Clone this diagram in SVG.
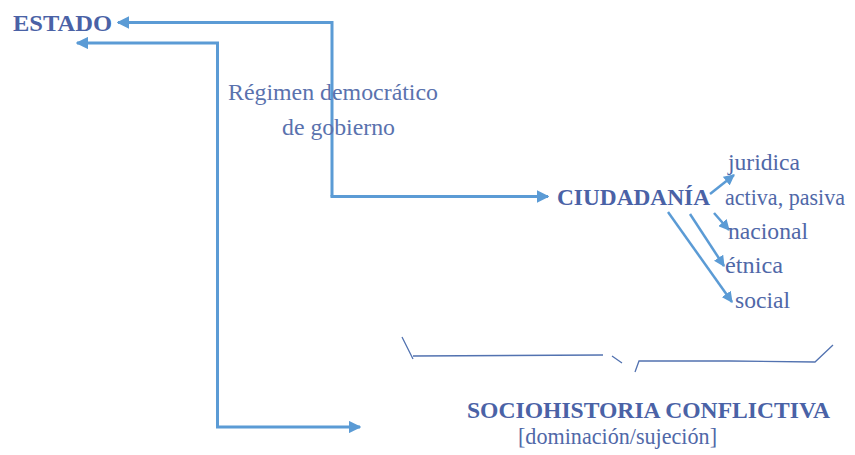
<svg xmlns="http://www.w3.org/2000/svg" width="855" height="455" viewBox="0 0 855 455" font-family="'Liberation Serif','Times New Roman',serif">
<style>
.t{font-family:'Liberation Serif','Times New Roman',serif;font-size:22.5px;fill:#5068a8}
.b{font-weight:bold;font-size:24px;fill:#4a62a6}
.r{fill:#5a72ae;font-size:24px}
.ln{fill:none;stroke:#5b9bd5;stroke-width:3}
.sl{fill:none;stroke:#5b9bd5;stroke-width:2.5}
.br{fill:none;stroke:#5272b0;stroke-width:1.3}
</style>
<defs>
<marker id="ah" viewBox="0 0 10 10" refX="9" refY="5" markerWidth="4.2" markerHeight="4.2" orient="auto-start-reverse" markerUnits="strokeWidth">
<path d="M0,0 L10,5 L0,10 z" fill="#5b9bd5"/>
</marker>
<marker id="ah2" viewBox="0 0 10 10" refX="9" refY="5" markerWidth="4.4" markerHeight="4.4" orient="auto" markerUnits="strokeWidth">
<path d="M0,0 L10,5 L0,10 z" fill="#5b9bd5"/>
</marker>
</defs>
<rect width="855" height="455" fill="#ffffff"/>
<g id="connectors">
<path class="ln" d="M332,196.5 L332,22.5 L118,22.5" marker-end="url(#ah)"/>
<path class="ln" d="M360,427 L217.5,427 L217.5,43 L77,43" marker-start="url(#ah)" marker-end="url(#ah)"/>
<path class="ln" d="M330.5,196.5 L548,196.5" marker-end="url(#ah)"/>
<path class="sl" d="M710,194 L734,175" marker-end="url(#ah2)"/>
<path class="sl" d="M714,213 L729,230" marker-end="url(#ah2)"/>
<path class="sl" d="M690,214 L724,266" marker-end="url(#ah2)"/>
<path class="sl" d="M668,212 L732,302" marker-end="url(#ah2)"/>
</g>
<g id="brace">
<path class="br" d="M402,337 L413,359 M413,356 L603,355 M612,356 L622,363 M635,372 L639,361 L730,361 L815,362 L833,345"/>
</g>
<g id="estado"><text class="t b" x="13" y="31" textLength="99" lengthAdjust="spacingAndGlyphs">ESTADO</text></g>
<g id="regimen">
<text class="t r" x="228" y="100" textLength="210" lengthAdjust="spacingAndGlyphs">Régimen democrático</text>
<text class="t r" x="282" y="135" textLength="113" lengthAdjust="spacingAndGlyphs">de gobierno</text>
</g>
<g id="ciudadania"><text class="t b" x="557" y="205" textLength="153" lengthAdjust="spacingAndGlyphs">CIUDADANÍA</text></g>
<g id="juridica"><text class="t" x="728" y="170" textLength="72" lengthAdjust="spacingAndGlyphs">juridica</text></g>
<g id="activa"><text class="t" x="725" y="205" textLength="120" lengthAdjust="spacingAndGlyphs">activa, pasiva</text></g>
<g id="nacional"><text class="t" x="728" y="239" textLength="80" lengthAdjust="spacingAndGlyphs">nacional</text></g>
<g id="etnica"><text class="t" x="725" y="273" textLength="58" lengthAdjust="spacingAndGlyphs">étnica</text></g>
<g id="social"><text class="t" x="735" y="308" textLength="55" lengthAdjust="spacingAndGlyphs">social</text></g>
<g id="sociohistoria">
<text class="t b" x="467" y="418" textLength="363" lengthAdjust="spacingAndGlyphs">SOCIOHISTORIA CONFLICTIVA</text>
<text class="t" x="518" y="444" textLength="199" lengthAdjust="spacingAndGlyphs">[dominación/sujeción]</text>
</g>
</svg>
